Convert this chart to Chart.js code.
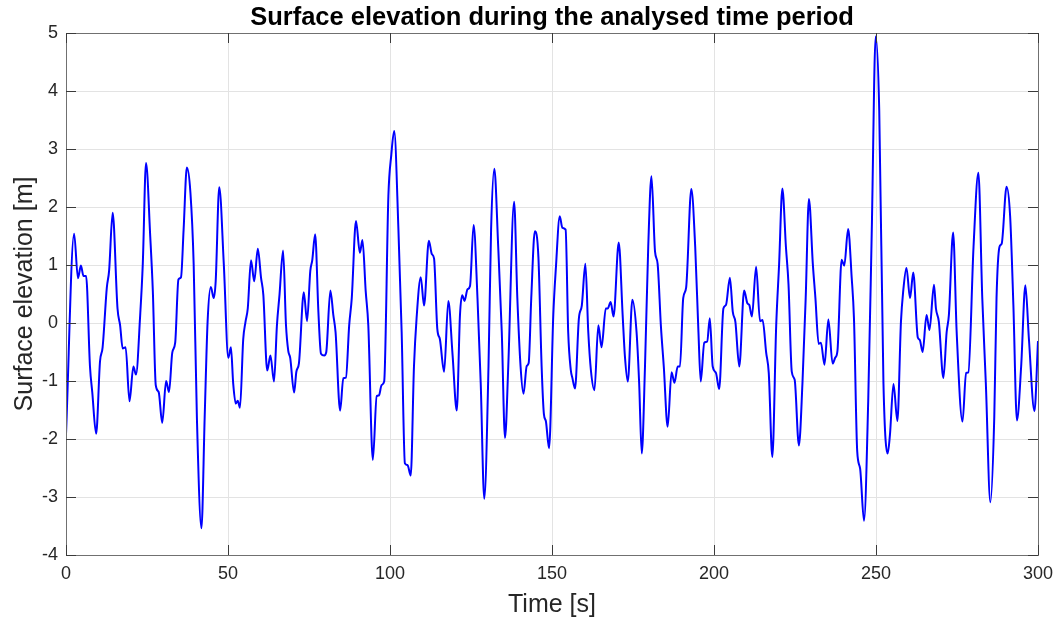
<!DOCTYPE html>
<html>
<head>
<meta charset="utf-8">
<script src="https://cdn.jsdelivr.net/npm/chart.js@4"></script>
<style>
  html, body { margin: 0; padding: 0; background: #fff; }
  #wrap { width: 1055px; height: 621px; }
</style>
</head>
<body>
<div id="wrap"><canvas id="chart" width="1055" height="621"></canvas></div>
<script>
// time [s] and surface elevation [m]
const times = [
  0, 2.5, 3.7, 4.6, 5.4, 6.2, 7.4, 8.1, 9.3, 10.5, 11.3, 12.6, 13.3, 14.4, 15.9, 16.7, 17.5, 18.4, 19.6,
  20.8, 21.6, 22.9, 23.7, 24.7, 26, 26.8, 27.7, 28.6, 29.7, 30.9, 31.8, 32.8, 33.7, 34.7, 35.5, 36.3,
  37.3, 38.4, 39.4, 40.4, 41.8, 42.8, 43.7, 44.7, 45.6, 46.2, 47.3, 48.7, 50.1, 50.9, 51.6, 52.4, 53,
  53.7, 54.7, 55.4, 56.1, 57.1, 58.1, 59.2, 60.2, 60.9, 62.1, 63.1, 64.2, 65.1, 65.9, 67, 67.9, 68.6,
  69.2, 70.4, 71.1, 71.9, 73.4, 74.4, 75.4, 76, 76.9, 77.9, 78.7, 79.7, 80.3, 81.6, 82.5, 83.2, 84.6,
  85.6, 86.4, 87.4, 88.2, 89.5, 90.7, 91.5, 92.5, 93.3, 94.7, 95.9, 96.6, 97.4, 98.2, 99.5, 100.4,
  101.3, 102.6, 103.6, 104.6, 105.4, 106.4, 107.4, 108.2, 109.5, 110.5, 112, 112.9, 113.6, 114.6,
  115.4, 116.7, 118, 119.3, 120.6, 121.6, 122.3, 123, 123.9, 124.7, 125.8, 127, 128, 129.1, 130.4,
  131.2, 132.2, 133.4, 134.5, 135.5, 136.5, 138.3, 139.3, 140.3, 141.2, 142.2, 142.8, 143.6, 144.7,
  145.8, 146.8, 147.5, 148.1, 149.1, 150.4, 151.2, 152.4, 153.2, 154.2, 155, 155.8, 156.3, 157.1,
  158.3, 159.2, 160.3, 161.2, 162, 163.1, 164.3, 165.3, 166.6, 167.2, 168.1, 169, 170.6, 171.8,
  172.5, 173.4, 174.8, 176.1, 176.9, 177.7, 178.7, 179.7, 180.7, 181.8, 182.6, 183.6, 184.5, 185.7,
  186.9, 187.8, 188.8, 189.5, 190.5, 191.4, 193, 194.2, 195.2, 195.9, 197, 197.9, 198.7, 199.6,
  200.6, 201.6, 202.9, 203.7, 204.9, 205.8, 206.6, 207.8, 209.3, 210.3, 210.9, 211.7, 213, 214.2,
  215, 216.1, 216.9, 218, 219.2, 220.1, 221.1, 222.2, 223, 224, 224.9, 226.2, 227.3, 228.3, 229.3,
  230.5, 231.3, 232.3, 233, 234.1, 235.3, 236.6, 237.4, 238.1, 239.4, 240.2, 241.4, 242.5, 243.2,
  244.2, 245.1, 246.3, 247.6, 248.7, 249.9, 251, 252.3, 253.6, 254.3, 255.4, 256.6, 257.7, 258.4,
  259.4, 260.5, 261.5, 262.9, 263.5, 264.4, 265.6, 266.5, 267.9, 268.5, 269.4, 270.8, 271.8, 272.5,
  273.8, 274.9, 276.7, 277.8, 278.5, 280.1, 281.6, 282.8, 283.9, 285.3, 286.5, 287.2, 288.1, 288.8,
  290.3, 291.4, 292.4, 293.5, 294.8, 296.1, 297.2, 298.9, 300
];
const elevation = [
  -1.92, 1.54, 0.77, 0.99, 0.81, 0.81, -0.75, -1.19, -1.91, -0.66, -0.42, 0.61, 0.9, 1.9, 0.25, -0.04, -0.44, -0.42, -1.35,
  -0.75, -0.89, 0.14, 1.02, 2.76, 1.49, 0.55, -1.07, -1.19, -1.72, -1.0, -1.19, -0.51, -0.34, 0.75, 0.79, 1.61,
  2.68, 2.25, 1.02, -1.63, -3.54, -1.63, 0.02, 0.62, 0.43, 0.72, 2.34, 1.02, -0.6, -0.42, -1.04, -1.39, -1.34,
  -1.46, -0.28, 0.02, 0.25, 1.08, 0.72, 1.28, 0.78, 0.49, -0.82, -0.56, -1.01, -0.04, 0.49, 1.25, -0.04, -0.48,
  -0.6, -1.2, -0.84, -0.69, 0.53, 0.03, 0.9, 1.08, 1.53, 0.19, -0.53, -0.56, -0.51, 0.56, 0.14, -0.16, -1.51,
  -0.95, -0.94, -0.04, 0.43, 1.76, 1.21, 1.43, 0.55, -0.04, -2.36, -1.26, -1.25, -1.07, -1.01, 2.19, 2.9,
  3.31, 1.61, -0.16, -2.42, -2.45, -2.63, -0.75, 0.08, 0.79, 0.3, 1.42, 1.19, 1.11, -0.1,
  -0.28, -0.84, 0.38, -0.54, -1.51, 0.14, 0.48, 0.38, 0.58, 0.64, 1.69, 0.43, -1.04, -3.03, -0.75,
  1.61, 2.66, 1.31, -0.16, -1.98, -0.75, 2.09, 0.43, -0.75, -1.22, -0.74, -0.69, 0.43, 1.58,
  1.14, -0.75, -1.57, -1.69, -2.16, 0.14, 0.95, 1.84, 1.64, 1.61, -0.16, -0.81, -0.95, -1.13,
  0.08, 0.3, 1.02, -0.16, -0.81, -1.16, -0.04, -0.42, 0.25, 0.25, 0.36, 0.11, 1.39, 0.14,
  -0.57, -1.01, 0.4, -0.16, -1.04, -2.25, -0.75, 1.31, 2.53, 1.23, 1.02, -0.04, -0.75, -1.79,
  -0.85, -1.03, -0.75, -0.75, 0.43, 0.61, 2.31, 1.31, -0.16, -1.01, -0.34, -0.32, 0.08, -0.75,
  -0.86, -1.14, 0.25, 0.31, 0.78, 0.19, 0.02, -0.75, 0.56, 0.34, 0.31, 0.11, 0.97, 0.03,
  0.05, -0.51, -0.86, -2.31, -0.04, 1.02, 2.32, 1.31, 0.66, -0.84, -0.98, -2.11, -1.04, 0.43, 2.14,
  1.02, 0.43, -0.36, -0.34, -0.72, 0.06, -0.7, -0.6, -0.48, 1.09, 0.99, 1.62, 0.78, 0.08,
  -2.21, -2.51, -3.41, -1.34, 1.61, 4.94, 3.66, -1.04, -2.25, -1.93, -1.05, -1.69, 0.02, 0.55,
  0.95, 0.43, 0.87, -0.25, -0.29, -0.5, 0.14, -0.12, 0.66, 0.25, 0.02, -0.95, -0.16, 0.14,
  1.56, -0.16, -1.7, -0.86, -0.85, 1.31, 2.59, 0.43, -1.04, -3.09, -1.63, 0.43, 1.31, 1.37,
  2.35, 1.84, 0.31, -1.68, -0.75, 0.65, -0.28, -1.52, -0.31
];
const xTicks = [0, 50, 100, 150, 200, 250, 300];
const yTicks = [-4, -3, -2, -1, 0, 1, 2, 3, 4, 5];
const TITLE = 'Surface elevation during the analysed time period';

const AXIS = '#262626';
const FONT = "'Liberation Sans', Arial, Helvetica, sans-serif";

// MATLAB-like box with inward tick marks on all four sides, title over the plot area
const boxPlugin = {
  id: 'box',
  afterDatasetsDraw(chart) {
    const { ctx, chartArea: a, scales } = chart;
    const len = 10;
    ctx.save();
    ctx.strokeStyle = '#707070';
    ctx.lineWidth = 1;
    ctx.strokeRect(Math.round(a.left) + 0.5, Math.round(a.top) + 0.5,
                   Math.round(a.right - a.left), Math.round(a.bottom - a.top));
    ctx.strokeStyle = '#3a3a3a';
    ctx.beginPath();
    xTicks.forEach((v) => {
      const x = Math.round(scales.x.getPixelForValue(v)) + 0.5;
      ctx.moveTo(x, a.bottom); ctx.lineTo(x, a.bottom - len);
      ctx.moveTo(x, a.top);    ctx.lineTo(x, a.top + len);
    });
    yTicks.forEach((v) => {
      const y = Math.round(scales.y.getPixelForValue(v)) + 0.5;
      ctx.moveTo(a.left, y);  ctx.lineTo(a.left + len, y);
      ctx.moveTo(a.right, y); ctx.lineTo(a.right - len, y);
    });
    ctx.stroke();

    ctx.fillStyle = '#000';
    ctx.font = `bold 25.5px ${FONT}`;
    ctx.textAlign = 'center';
    ctx.textBaseline = 'alphabetic';
    ctx.fillText(TITLE, (a.left + a.right) / 2, 25);
    ctx.restore();
  },
};

new Chart(document.getElementById('chart'), {
  type: 'line',
  data: {
    datasets: [{
      data: times.map((t, i) => ({ x: t, y: elevation[i] })),
      borderColor: '#0000ff',
      borderWidth: 2,
      pointRadius: 0,
      cubicInterpolationMode: 'monotone',
      fill: false,
    }],
  },
  options: {
    responsive: false,
    animation: false,
    layout: { padding: { left: 0, right: 17, top: 33, bottom: 0 } },
    plugins: {
      legend: { display: false },
      tooltip: { enabled: false },
      title: { display: false },
    },
    scales: {
      x: {
        type: 'linear',
        min: 0,
        max: 300,
        afterBuildTicks: (s) => { s.ticks = xTicks.map((v) => ({ value: v })); },
        afterFit: (s) => { s.height = 66; s.paddingLeft = 0; s.paddingRight = 0; },
        grid: { color: '#e3e3e3', drawTicks: false },
        border: { display: false },
        ticks: { color: AXIS, padding: 8, maxRotation: 0, font: { family: FONT, size: 18 } },
        title: {
          display: true,
          text: 'Time [s]',
          color: AXIS,
          font: { family: FONT, size: 25 },
          padding: { top: 0, bottom: 1 },
        },
      },
      y: {
        min: -4,
        max: 5,
        afterBuildTicks: (s) => { s.ticks = yTicks.map((v) => ({ value: v })); },
        afterFit: (s) => { s.width = 66; s.paddingTop = 0; s.paddingBottom = 0; },
        grid: { color: '#e3e3e3', drawTicks: false },
        border: { display: false },
        ticks: { color: AXIS, padding: 8, font: { family: FONT, size: 18 } },
        title: {
          display: true,
          text: 'Surface elevation [m]',
          color: AXIS,
          font: { family: FONT, size: 25 },
          padding: { top: 10, bottom: 0 },
        },
      },
    },
  },
  plugins: [boxPlugin],
});
</script>
</body>
</html>
